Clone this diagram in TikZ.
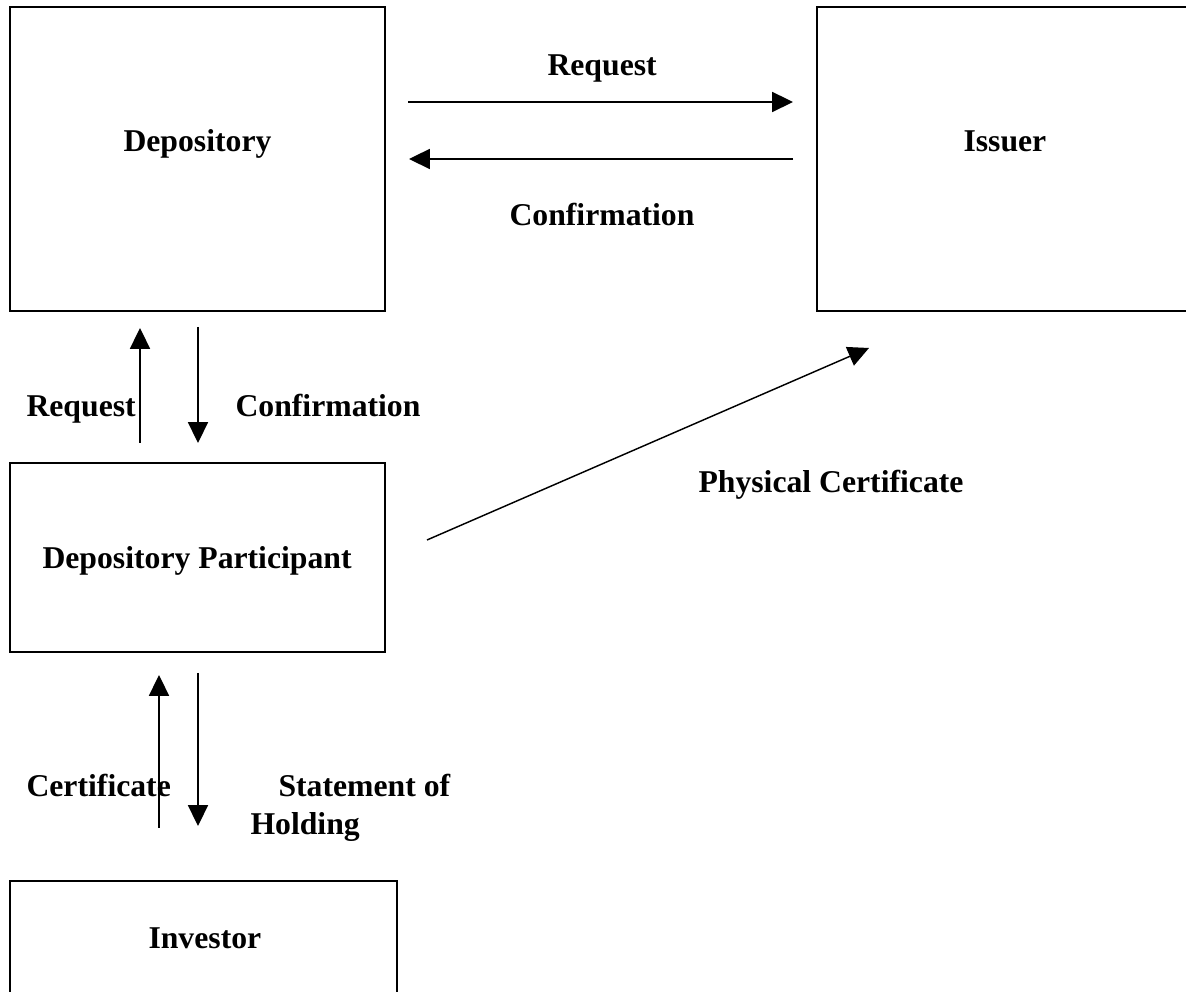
\documentclass[tikz,border=0pt]{standalone}
\usepackage{fontspec}
\setmainfont{Liberation Serif}
\usetikzlibrary{arrows.meta,fit}
\begin{document}
\begin{tikzpicture}[x=0.3785pt,y=-0.3785pt,
  box/.style={draw, line width=0.76pt, inner sep=0pt, rectangle},
  lbl/.style={font=\fontsize{12}{14}\selectfont\bfseries, inner sep=0pt, anchor=base west},
  arr/.style={line width=0.55pt, -{Triangle[length=7.9pt,width=7.6pt]}}]
\useasboundingbox (0,0) rectangle (1186,992);
\clip (0,0) rectangle (1186,992);
% boxes
\node[box, fit={(10,7) (385,311)}] (dep) {};
\node[box, fit={(817,7) (1210,311)}] (iss) {};
\node[box, fit={(10,463) (385,652)}] (dp) {};
\node[box, fit={(10,881) (397,1010)}] (inv) {};
% box texts
\node[lbl] (deptxt) at (123,152) {Depository};
\node[lbl] (isstxt) at (963,152) {Issuer};
\node[lbl] (dptxt) at (42,569) {Depository Participant};
\node[lbl] (invtxt) at (148,949) {Investor};
% connector end points
\coordinate (r1s) at (408,102);  \coordinate (r1e) at (793,102);
\coordinate (c1s) at (793,159);  \coordinate (c1e) at (409,159);
\coordinate (r2s) at (140,443);  \coordinate (r2e) at (140,328);
\coordinate (c2s) at (198,327);  \coordinate (c2e) at (198,443);
\coordinate (pcs) at (427,540);  \coordinate (pce) at (869,348);
\coordinate (c3s) at (159,828);  \coordinate (c3e) at (159,675);
\coordinate (s3s) at (198,673);  \coordinate (s3e) at (198,826);
% connectors
\draw[arr] (r1s) -- (r1e);
\draw[arr] (c1s) -- (c1e);
\draw[arr] (r2s) -- (r2e);
\draw[arr] (c2s) -- (c2e);
\draw[arr] (pcs) -- (pce);
\draw[arr] (c3s) -- (c3e);
\draw[arr] (s3s) -- (s3e);
% connector labels
\node[lbl] (l1) at (547,76) {Request};
\node[lbl] (l2) at (509,226) {Confirmation};
\node[lbl] (l3) at (26,417) {Request};
\node[lbl] (l4) at (235,417) {Confirmation};
\node[lbl] (l5) at (698,493) {Physical Certificate};
\node[lbl] (l6) at (26,797) {Certificate};
\node[lbl] (l7) at (278,797) {Statement of};
\node[lbl] (l8) at (250,835) {Holding};
\end{tikzpicture}
\end{document}
